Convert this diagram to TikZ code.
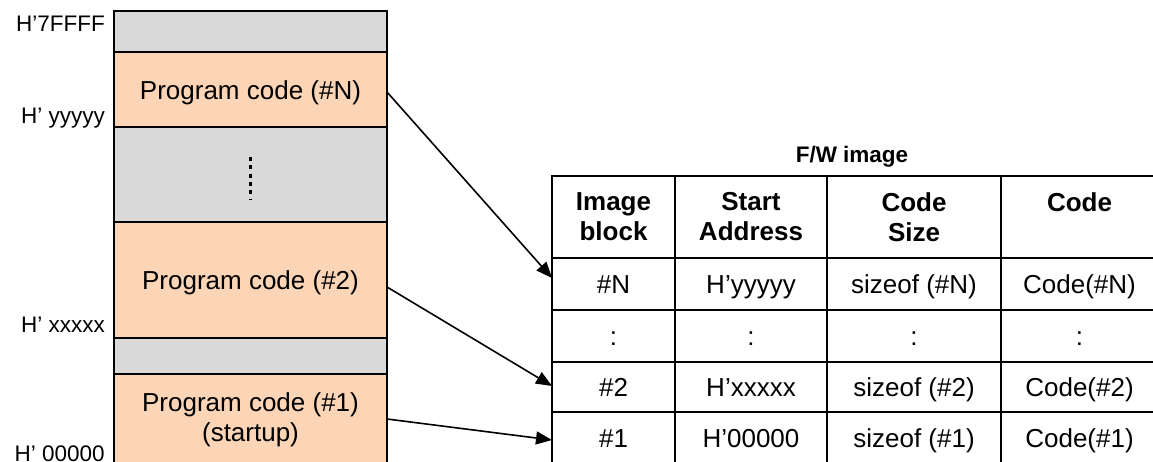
\documentclass[tikz,border=0pt]{standalone}
\usepackage{fontspec}
\setmainfont{Liberation Sans}
\usetikzlibrary{arrows.meta}
\definecolor{peach}{HTML}{FBD5B5}
\definecolor{memgray}{HTML}{D9D9D9}
\begin{document}
\begin{tikzpicture}[x=1pt,y=-1pt,
  big/.style={font=\fontsize{26}{30}\selectfont},
  one/.style={text height=19pt, text depth=0pt},
  mem/.style={big, draw, line width=2pt, minimum width=273pt, inner sep=0pt, outer sep=0pt, align=center},
  gapbox/.style={mem, fill=memgray},
  codebox/.style={mem, fill=peach},
  cell/.style={big, draw, line width=2.5pt, inner sep=0pt, outer sep=0pt, align=center},
  hdr/.style={cell, font=\bfseries\fontsize{26}{30}\selectfont, minimum height=82pt},
  lbl/.style={font=\fontsize{22.5}{27}\selectfont, anchor=base east, inner sep=0pt},
  arr/.style={line width=1.6pt, -{Triangle[length=16pt,width=13pt]}},
  w1/.style={minimum width=123pt},
  w2/.style={minimum width=152pt},
  w3/.style={minimum width=174pt},
  w4/.style={minimum width=157pt}]
\useasboundingbox (0,0) rectangle (1153,461);
\clip (0,0) rectangle (1153,461);

% memory map
\node[gapbox, minimum height=41pt] (g1) at (250.5,31.5) {};
\node[codebox, one, minimum height=75pt] (pN) at (250.5,89.5) {Program code (\#N)};
\node[gapbox, minimum height=95pt] (g2) at (250.5,174.5) {};
\node[codebox, one, minimum height=116pt] (p2) at (250.5,280) {Program code (\#2)};
\node[gapbox, minimum height=36pt] (g3) at (250.5,356) {};
\node[codebox, minimum height=92pt] (p1) at (250.5,420) {Program code (\#1)\\(startup)};
\draw[line width=3.5pt, dash pattern=on 4pt off 4.3pt] (250.5,157) -- (250.5,199);

% address labels
\node[lbl] (l1) at (105,31) {H’7FFFF};
\node[lbl] (l2) at (105,123) {H’ yyyyy};
\node[lbl] (l3) at (105,332) {H’ xxxxx};
\node[lbl] (l4) at (105,461) {H’ 00000};

% title
\node[font=\bfseries\fontsize{22.5}{27}\selectfont, anchor=base, inner sep=0pt] (title) at (852,162) {F/W image};

% table header
\node[hdr, w1] (a1) at (613.5,217) {Image\\block};
\node[hdr, w2] (a2) at (751,217) {Start\\Address};
\node[hdr, w3] (a3) at (914,217) {Code\\Size};
\node[hdr, w4] (a4) at (1079.5,217) {Code\\\mbox{}};
% row #N
\node[cell, one, w1, minimum height=52pt] (b1) at (613.5,284) {\#N};
\node[cell, one, w2, minimum height=52pt] (b2) at (751,284) {H’yyyyy};
\node[cell, one, w3, minimum height=52pt] (b3) at (914,284) {sizeof (\#N)};
\node[cell, one, w4, minimum height=52pt] (b4) at (1079.5,284) {Code(\#N)};
% row dots
\node[cell, one, w1, minimum height=52pt] (c1) at (613.5,336) {:};
\node[cell, one, w2, minimum height=52pt] (c2) at (751,336) {:};
\node[cell, one, w3, minimum height=52pt] (c3) at (914,336) {:};
\node[cell, one, w4, minimum height=52pt] (c4) at (1079.5,336) {:};
% row #2
\node[cell, one, w1, minimum height=50pt] (d1) at (613.5,387) {\#2};
\node[cell, one, w2, minimum height=50pt] (d2) at (751,387) {H’xxxxx};
\node[cell, one, w3, minimum height=50pt] (d3) at (914,387) {sizeof (\#2)};
\node[cell, one, w4, minimum height=50pt] (d4) at (1079.5,387) {Code(\#2)};
% row #1
\node[cell, one, w1, minimum height=52pt] (e1) at (613.5,438) {\#1};
\node[cell, one, w2, minimum height=52pt] (e2) at (751,438) {H’00000};
\node[cell, one, w3, minimum height=52pt] (e3) at (914,438) {sizeof (\#1)};
\node[cell, one, w4, minimum height=52pt] (e4) at (1079.5,438) {Code(\#1)};

% arrows
\draw[arr] ([yshift=-2.5pt]pN.east) -- ([yshift=6pt]b1.west);
\draw[arr] ([yshift=-7pt]p2.east) -- ([yshift=1pt]d1.west);
\draw[arr] ([yshift=1pt]p1.east) -- ([yshift=-2pt]e1.west);
\end{tikzpicture}
\end{document}
